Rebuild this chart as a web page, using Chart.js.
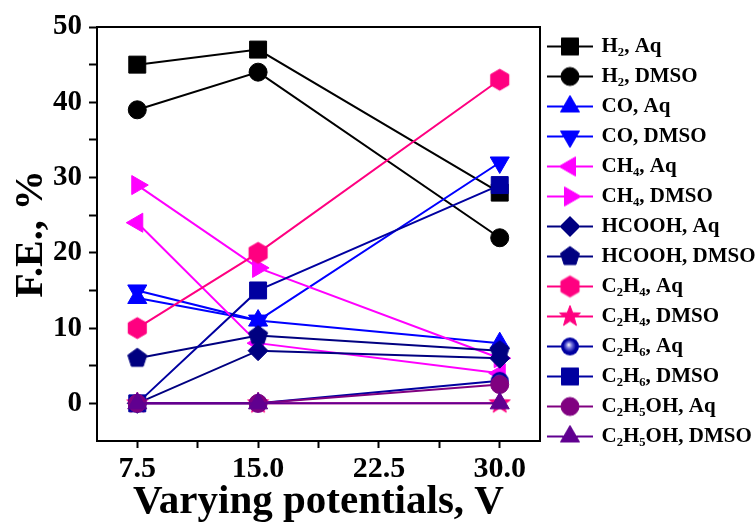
<!DOCTYPE html>
<html><head><meta charset="utf-8">
<script src="https://cdn.jsdelivr.net/npm/chart.js@4"></script>
<style>html,body{margin:0;padding:0;background:#fff;overflow:hidden}#wrap{width:756px;height:527px;position:relative}canvas{display:block}</style>
</head><body><div id="wrap"><canvas id="c" width="756" height="527"></canvas></div>
<script>
// ---------- data ----------
const potentials = [7.5, 15.0, 30.0];
const xTickValues = [7.5, 11.25, 15.0, 18.75, 22.5, 26.25, 30.0];
const xTickLabels = ['7.5', '', '15.0', '', '22.5', '', '30.0'];
const yTickValues = [0, 5, 10, 15, 20, 25, 30, 35, 40, 45, 50];
const yTickLabels = ['0', '', '10', '', '20', '', '30', '', '40', '', '50'];
const seriesNames = ['H₂, Aq', 'H₂, DMSO', 'CO, Aq', 'CO, DMSO', 'CH₄, Aq', 'CH₄, DMSO',
  'HCOOH, Aq', 'HCOOH, DMSO', 'C₂H₄, Aq', 'C₂H₄, DMSO', 'C₂H₆, Aq', 'C₂H₆, DMSO',
  'C₂H₅OH, Aq', 'C₂H₅OH, DMSO'];
const h2Aq = [45, 47, 28];
const h2Dmso = [39, 44, 22];
const coAq = [14, 11, 8];
const coDmso = [15, 11, 32];
const ch4Aq = [24, 8, 4];
const ch4Dmso = [29, 18, 6];
const hcoohAq = [0, 7, 6];
const hcoohDmso = [6, 9, 7];
const c2h4Aq = [10, 20, 43];
const c2h4Dmso = [0, 0, 0];
const c2h6Aq = [0, 0, 3];
const c2h6Dmso = [0, 15, 29];
const c2h5ohAq = [0, 0, 2.5];
const c2h5ohDmso = [0, 0, 0];
const seriesValues = [h2Aq, h2Dmso, coAq, coDmso, ch4Aq, ch4Dmso, hcoohAq, hcoohDmso,
  c2h4Aq, c2h4Dmso, c2h6Aq, c2h6Dmso, c2h5ohAq, c2h5ohDmso];

// ---------- styles ----------
const seriesColors = ['#000000', '#000000', '#0000FF', '#0000FF', '#FF00FF', '#FF00FF',
  '#000080', '#000080', '#FF0080', '#FF0080', '#0000A0', '#0000A0', '#800080', '#600090'];
const seriesShapes = ['rect', 'circle', 'triangle', 'triangle', 'triangle', 'triangle',
  'rectRot', 'pentagon', 'hexagon', 'star', 'ball', 'rect', 'circle', 'triangle'];
const seriesRot = [0, 0, 0, 180, 270, 90, 0, 0, 0, 0, 0, 0, 0, 0];
const seriesRadius = [12, 9, 11, 11, 11, 11, 10, 10, 10.5, 11, 9, 12, 9, 11];

const FONT = "'Liberation Serif', 'Times New Roman', serif";

function polyCanvas(shape, color, R) {
  const size = Math.ceil(R * 2 + 4);
  const cv = document.createElement('canvas');
  cv.width = size; cv.height = size;
  const ctx = cv.getContext('2d');
  const c = size / 2;
  ctx.fillStyle = color; ctx.strokeStyle = color; ctx.lineWidth = 1;
  ctx.beginPath();
  if (shape === 'ball') {
    const g = ctx.createRadialGradient(c - R * 0.15, c - R * 0.2, 0, c, c, R);
    g.addColorStop(0, '#ffffff');
    g.addColorStop(0.35, '#6a6ad8');
    g.addColorStop(0.7, color);
    g.addColorStop(1, color);
    ctx.fillStyle = g;
    ctx.arc(c, c, R, 0, Math.PI * 2);
  } else {
    let n = shape === 'pentagon' ? 5 : shape === 'hexagon' ? 6 : 10;
    for (let k = 0; k < n; k++) {
      const a = -Math.PI / 2 + k * 2 * Math.PI / n;
      const r = shape === 'star' ? (k % 2 ? R * 0.42 : R) : R;
      const px = c + r * Math.cos(a), py = c + r * Math.sin(a);
      k ? ctx.lineTo(px, py) : ctx.moveTo(px, py);
    }
  }
  ctx.closePath();
  ctx.fill();
  if (shape !== 'ball') ctx.stroke();
  return cv;
}

const pointStyles = seriesShapes.map((s, i) =>
  ['pentagon', 'hexagon', 'star', 'ball'].includes(s) ? polyCanvas(s, seriesColors[i], seriesRadius[i]) : s);

function legendCanvas(i) {
  const cv = document.createElement('canvas');
  cv.width = 48; cv.height = 26;
  const ctx = cv.getContext('2d');
  ctx.strokeStyle = seriesColors[i]; ctx.fillStyle = seriesColors[i];
  ctx.lineWidth = 2;
  ctx.beginPath(); ctx.moveTo(1, 13); ctx.lineTo(47, 13); ctx.stroke();
  const ps = pointStyles[i];
  if (typeof ps === 'object') {
    ctx.drawImage(ps, 24 - ps.width / 2, 13 - ps.height / 2);
  } else {
    ctx.lineWidth = 1;
    Chart.helpers.drawPoint(ctx, {pointStyle: ps, rotation: seriesRot[i], radius: seriesRadius[i], borderWidth: 1}, 24, 13);
  }
  return cv;
}

const datasets = seriesNames.map((name, i) => ({
  label: name,
  data: potentials.map((x, j) => ({x: x, y: seriesValues[i][j]})),
  borderColor: seriesColors[i],
  backgroundColor: seriesColors[i],
  borderWidth: 2,
  pointStyle: pointStyles[i],
  pointRotation: seriesRot[i],
  pointRadius: seriesRadius[i],
  pointHoverRadius: seriesRadius[i],
  pointBorderWidth: 1,
  pointBackgroundColor: seriesColors[i],
  pointBorderColor: seriesColors[i],
  order: seriesNames.length - i,
  tension: 0,
  clip: false
}));

const framePlugin = {
  id: 'frame',
  beforeDatasetsDraw(chart) {
    const {ctx, chartArea: a} = chart;
    ctx.save();
    ctx.strokeStyle = '#000'; ctx.lineWidth = 2;
    ctx.strokeRect(a.left, a.top, a.right - a.left, a.bottom - a.top);
    ctx.restore();
  }
};

// give the right-hand legend a fixed width (the default caps it at a quarter of the canvas)
const LEGEND_W = 216;
const legendWidthPlugin = {
  id: 'legendWidth',
  beforeInit(chart) {
    const lg = chart.legend;
    if (!lg) return;
    const fit = lg.fit;
    lg.fit = function () {
      this.maxWidth = LEGEND_W;
      fit.call(this);
      this.width = LEGEND_W;
    };
  }
};

const chart = new Chart(document.getElementById('c'), {
  type: 'line',
  data: {datasets},
  plugins: [framePlugin, legendWidthPlugin],
  options: {
    responsive: false,
    animation: false,
    events: [],
    layout: {padding: {left: 0, top: 27, right: 0, bottom: 0}},
    scales: {
      x: {
        type: 'linear', min: 5, max: 32.5,
        afterBuildTicks: s => { s.ticks = xTickValues.map(v => ({value: v})); },
        afterFit: s => { s.height = 86; },
        ticks: {
          autoSkip: false, maxRotation: 0, padding: 3, color: '#000',
          font: {family: FONT, size: 30, weight: 'bold'},
          callback: (v, idx) => xTickLabels[idx]
        },
        grid: {display: true, drawOnChartArea: false, drawTicks: true, tickLength: 7, tickWidth: 2, tickColor: '#000'},
        border: {display: false},
        title: {display: true, text: 'Varying potentials, V', color: '#000', padding: {top: 0, bottom: 0},
          font: {family: FONT, size: 41, weight: 'bold'}}
      },
      y: {
        type: 'linear', min: -5, max: 50,
        afterBuildTicks: s => { s.ticks = yTickValues.map(v => ({value: v})); },
        afterFit: s => { s.width = 97; },
        ticks: {
          autoSkip: false, padding: 7, color: '#000',
          font: {family: FONT, size: 29, weight: 'bold'},
          callback: (v, idx) => yTickLabels[idx]
        },
        grid: {display: true, drawOnChartArea: false, drawTicks: true, tickLength: 8, tickWidth: 2, tickColor: '#000'},
        border: {display: false},
        title: {display: true, text: 'F.E., %', color: '#000', padding: {top: 8, bottom: 0},
          font: {family: FONT, size: 40, weight: 'bold'}}
      }
    },
    plugins: {
      tooltip: {enabled: false},
      legend: {
        display: true, position: 'right', align: 'start',
        labels: {
          usePointStyle: true, pointStyleWidth: 42, padding: 9, color: '#000',
          font: {family: FONT, size: 21, weight: 'bold'},
          generateLabels: ch => ch.data.datasets.map((ds, i) => ({
            text: ds.label, fillStyle: ds.borderColor, strokeStyle: ds.borderColor,
            fontColor: '#000', lineWidth: 0, hidden: false, datasetIndex: i,
            pointStyle: legendCanvas(i)
          }))
        }
      }
    }
  }
});
</script></body></html>
